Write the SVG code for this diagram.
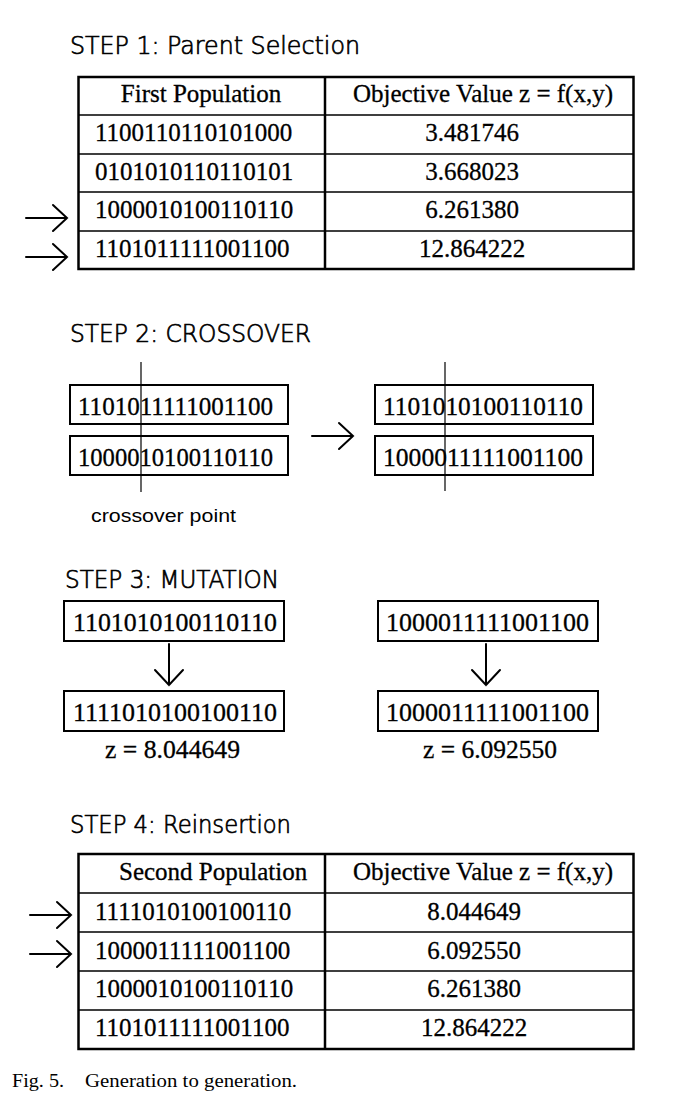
<svg xmlns="http://www.w3.org/2000/svg" xmlns:xlink="http://www.w3.org/1999/xlink" width="686" height="1106" viewBox="0 0 686 1106">
<style>
.title{font-family:"DejaVu Sans","Liberation Sans",sans-serif;font-weight:200;font-size:24px;fill:#000;stroke:#000;stroke-width:0.7;font-variant-ligatures:none}
.t{font-family:"Liberation Serif","Times New Roman",serif;font-size:25px;fill:#000;stroke:#000;stroke-width:0.3}
.cap{font-family:"Liberation Serif","Times New Roman",serif;font-size:18px;fill:#000}
.lbl{font-family:"Liberation Sans",Arial,sans-serif;font-size:18px;fill:#000}
.outer{fill:none;stroke:#000;stroke-width:2.5}
.inner{fill:none;stroke:#000;stroke-width:1.5}
.box{fill:#fff;stroke:#000;stroke-width:2}
.arr{fill:none;stroke:#000;stroke-width:2;stroke-linecap:round;stroke-linejoin:miter}
.cut{stroke:#000;stroke-width:1.2}
</style>
<defs>
<path id="harrow" class="arr" d="M0,0 H41 M27,-13 L41,0 L27,13"/>
<path id="varrow" class="arr" d="M0,0 V41 M-14,26 L0,41 L14,26"/>
</defs>
<rect width="686" height="1106" fill="#fff"/>

<!-- STEP 1 -->
<g id="step1-title"><text class="title" x="70" y="54" textLength="290" lengthAdjust="spacingAndGlyphs">STEP 1: Parent Selection</text></g>
<g id="table1">
<rect class="outer" x="78.5" y="77" width="555" height="192"/>
<path class="inner" d="M78.5,115 H633.5 M78.5,154 H633.5 M78.5,192 H633.5 M78.5,231 H633.5"/>
<path class="outer" d="M325,77 V269"/>
<text class="t" x="201" y="102" text-anchor="middle">First Population</text>
<text class="t" x="483" y="102" text-anchor="middle">Objective Value z = f(x,y)</text>
<text class="t" x="95" y="141">1100110110101000</text>
<text class="t" x="95" y="180">0101010110110101</text>
<text class="t" x="95" y="218">1000010100110110</text>
<text class="t" x="95" y="257">1101011111001100</text>
<text class="t" x="472" y="141" text-anchor="middle">3.481746</text>
<text class="t" x="472" y="180" text-anchor="middle">3.668023</text>
<text class="t" x="472" y="218" text-anchor="middle">6.261380</text>
<text class="t" x="472" y="257" text-anchor="middle">12.864222</text>
</g>

<!-- STEP 2 -->
<g id="step2-title"><text class="title" x="70" y="342" textLength="241" lengthAdjust="spacingAndGlyphs">STEP 2: CROSSOVER</text></g>
<g id="parent1"><rect class="box" x="70" y="385" width="218" height="39"/><text class="t" x="78" y="415" textLength="195" lengthAdjust="spacingAndGlyphs">1101011111001100</text></g>
<g id="parent2"><rect class="box" x="70" y="436" width="218" height="39"/><text class="t" x="78" y="466" textLength="195" lengthAdjust="spacingAndGlyphs">1000010100110110</text></g>
<g id="child1"><rect class="box" x="375" y="385" width="218" height="39"/><text class="t" x="383" y="415" textLength="200" lengthAdjust="spacingAndGlyphs">1101010100110110</text></g>
<g id="child2"><rect class="box" x="375" y="436" width="218" height="39"/><text class="t" x="383" y="466" textLength="200" lengthAdjust="spacingAndGlyphs">1000011111001100</text></g>
<g id="crossover-label"><text class="lbl" x="91" y="522" textLength="145" lengthAdjust="spacingAndGlyphs">crossover point</text></g>

<!-- STEP 3 -->
<g id="step3-title"><text class="title" x="65" y="588" textLength="214" lengthAdjust="spacingAndGlyphs">STEP 3: MUTATION</text></g>
<g id="mut-in1"><rect class="box" x="64" y="601" width="220" height="40"/><text class="t" x="73" y="631" textLength="204" lengthAdjust="spacingAndGlyphs">1101010100110110</text></g>
<g id="mut-in2"><rect class="box" x="378" y="601" width="220" height="40"/><text class="t" x="386" y="631" textLength="203" lengthAdjust="spacingAndGlyphs">1000011111001100</text></g>
<g id="mut-out1"><rect class="box" x="64" y="691" width="220" height="40"/><text class="t" x="73" y="721" textLength="204" lengthAdjust="spacingAndGlyphs">1111010100100110</text></g>
<g id="mut-out2"><rect class="box" x="378" y="691" width="220" height="40"/><text class="t" x="386" y="721" textLength="203" lengthAdjust="spacingAndGlyphs">1000011111001100</text></g>
<g id="z1"><text class="t" x="105" y="758" textLength="135" lengthAdjust="spacingAndGlyphs">z = 8.044649</text></g>
<g id="z2"><text class="t" x="423" y="758" textLength="134" lengthAdjust="spacingAndGlyphs">z = 6.092550</text></g>

<!-- STEP 4 -->
<g id="step4-title"><text class="title" x="70" y="833" textLength="221" lengthAdjust="spacingAndGlyphs">STEP 4: Reinsertion</text></g>
<g id="table2">
<rect class="outer" x="78.5" y="854" width="555" height="195"/>
<path class="inner" d="M78.5,893 H633.5 M78.5,932 H633.5 M78.5,971 H633.5 M78.5,1010 H633.5"/>
<path class="outer" d="M325,854 V1049"/>
<text class="t" x="119" y="880">Second Population</text>
<text class="t" x="483" y="880" text-anchor="middle">Objective Value z = f(x,y)</text>
<text class="t" x="95" y="920">1111010100100110</text>
<text class="t" x="95" y="959">1000011111001100</text>
<text class="t" x="95" y="997">1000010100110110</text>
<text class="t" x="95" y="1036">1101011111001100</text>
<text class="t" x="474" y="920" text-anchor="middle">8.044649</text>
<text class="t" x="474" y="959" text-anchor="middle">6.092550</text>
<text class="t" x="474" y="997" text-anchor="middle">6.261380</text>
<text class="t" x="474" y="1036" text-anchor="middle">12.864222</text>
</g>

<!-- caption -->
<g id="caption">
<text class="cap" x="12" y="1087" textLength="52" lengthAdjust="spacingAndGlyphs">Fig. 5.</text>
<text class="cap" x="85" y="1087" textLength="212" lengthAdjust="spacingAndGlyphs">Generation to generation.</text>
</g>

<!-- connectors -->
<g id="connectors">
<use xlink:href="#harrow" x="26" y="218"/>
<use xlink:href="#harrow" x="26" y="257"/>
<line class="cut" x1="141" y1="362" x2="141" y2="492"/>
<line class="cut" x1="445" y1="362" x2="445" y2="491"/>
<use xlink:href="#harrow" x="312" y="436"/>
<use xlink:href="#varrow" x="169" y="644"/>
<use xlink:href="#varrow" x="486" y="644"/>
<use xlink:href="#harrow" x="30" y="915"/>
<use xlink:href="#harrow" x="30" y="954"/>
</g>
</svg>
